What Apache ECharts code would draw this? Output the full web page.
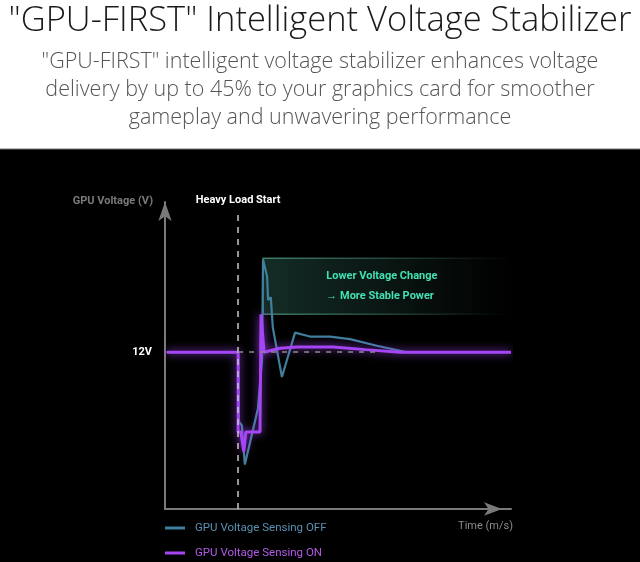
<!DOCTYPE html>
<html>
<head>
<meta charset="utf-8">
<script src="https://cdn.jsdelivr.net/npm/echarts@6/dist/echarts.min.js"></script>
<style>html,body{margin:0;padding:0;background:#fff}#c{width:640px;height:562px}</style>
</head>
<body>
<div id="c"></div>
<script>
// ---- data (x: time units, y: voltage units, 12 = nominal 12V) ----
const seriesNames = ['GPU Voltage Sensing OFF', 'GPU Voltage Sensing ON'];
const offData = [[0.5,12],[21.7,12],[21.9,6.7],[22.8,6.4],[23.7,3.4],[27.6,7.7],[28.8,11.4],[29.1,19.1],[30.3,17.8],[30.6,16.0],[31.4,16.2],[32.0,13.9],[34.7,10.1],[38.6,13.5],[43.0,13.2],[49.0,13.2],[54.9,13.0],[62.9,12.5],[71.8,12.0],[102.7,12]];
const onData = [[0.5,12],[21.7,12],[21.7,5.9],[22.5,5.9],[23.4,4.4],[24.0,5.9],[28.2,5.9],[28.5,14.9],[29.4,12.0],[34.1,12.3],[39.2,12.4],[49.9,12.4],[59.4,12.2],[69.7,12.0],[102.7,12]];
const loadStartX = 21.7;
const nominalV = 12;
const bandRange = [[29.1, 19.2], [102.7, 14.9]];
const yTickLabels = {12: '12V'};
const titleText = '"GPU-FIRST" Intelligent Voltage Stabilizer';
const subText = '"GPU-FIRST" intelligent voltage stabilizer enhances voltage\ndelivery by up to 45% to your graphics card for smoother\ngameplay and unwavering performance';

const cond = "'Roboto', sans-serif";
const chart = echarts.init(document.getElementById('c'), null, {renderer: 'canvas'});
chart.setOption({
  backgroundColor: '#fff',
  animation: false,
  title: {
    text: titleText,
    subtext: subText,
    left: 'center',
    top: -1,
    itemGap: 9,
    textStyle: {fontFamily: "'Open Sans', Lato, sans-serif", fontWeight: 300, fontSize: 34.5, color: '#1a1a1a'},
    subtextStyle: {fontFamily: "'Open Sans', Lato, sans-serif", fontWeight: 300, fontSize: 21.5, lineHeight: 28, color: '#555'}
  },
  graphic: [
    {type: 'rect', z: -10, shape: {x: 0, y: 149, width: 640, height: 413}, style: {fill: '#000'}},
    {type: 'line', z: -9, shape: {x1: 0, y1: 149, x2: 640, y2: 149}, style: {stroke: '#777', lineWidth: 1}}
  ],
  grid: {left: 165, right: 129, top: 202, bottom: 53},
  legend: {
    orient: 'vertical', left: 165, top: 522, padding: 0, itemGap: 13,
    icon: 'rect', itemWidth: 20, itemHeight: 3,
    textStyle: {fontFamily: cond, fontSize: 11.5, padding: [0, 0, 0, 5]},
    data: [
      {name: seriesNames[0], textStyle: {color: '#5b90b2'}},
      {name: seriesNames[1], textStyle: {color: '#b35ae8'}}
    ]
  },
  xAxis: {
    type: 'value', min: 0, max: 102.7,
    name: 'Time (m/s)', nameLocation: 'end', nameGap: 2,
    nameTextStyle: {color: '#8a8a8a', fontFamily: cond, fontSize: 11, align: 'right', verticalAlign: 'top', padding: [12, 0, 0, 0]},
    axisLine: {show: true, symbol: ['none', 'arrow'], symbolSize: [10, 18], symbolOffset: [0, -9], lineStyle: {color: '#7a7a7a', width: 2}},
    axisTick: {show: false}, axisLabel: {show: false}, splitLine: {show: false}
  },
  yAxis: {
    type: 'value', min: 0, max: 23.5, interval: 12,
    name: 'GPU Voltage (V)', nameLocation: 'end', nameGap: 1,
    nameTextStyle: {color: '#7a7a7a', fontFamily: cond, fontSize: 11, fontWeight: 'bold', align: 'right', verticalAlign: 'middle', padding: [0, 12, 0, 0]},
    axisLine: {show: true, symbol: ['none', 'arrow'], symbolSize: [10, 19], lineStyle: {color: '#7a7a7a', width: 2}},
    axisTick: {show: false}, splitLine: {show: false},
    axisLabel: {show: true, margin: 13, color: '#fff', fontFamily: cond, fontSize: 11, fontWeight: 'bold',
      formatter: v => yTickLabels[v] || ''}
  },
  series: [
    {
      name: 'markers', type: 'line', data: [], z: 1, silent: true,
      markArea: {
        silent: true,
        itemStyle: {
          color: {type: 'linear', x: 0, y: 0, x2: 1, y2: 0, colorStops: [
            {offset: 0, color: 'rgba(60,130,110,0.34)'},
            {offset: 0.5, color: 'rgba(50,110,95,0.2)'},
            {offset: 0.85, color: 'rgba(45,100,85,0.06)'},
            {offset: 1, color: 'rgba(40,90,75,0)'}]},
          borderWidth: 1.5,
          borderColor: {type: 'linear', x: 0, y: 0, x2: 1, y2: 0, colorStops: [
            {offset: 0, color: 'rgba(80,160,135,0.75)'},
            {offset: 0.5, color: 'rgba(70,140,120,0.45)'},
            {offset: 0.85, color: 'rgba(70,140,120,0.12)'},
            {offset: 1, color: 'rgba(70,140,120,0)'}]}
        },
        label: {
          show: true, position: 'insideLeft', distance: 64,
          color: '#42e0b2', fontFamily: cond, fontSize: 11, fontWeight: 'bold', lineHeight: 20, align: 'left',
          formatter: 'Lower Voltage Change\n→ More Stable Power'
        },
        data: [[{coord: bandRange[0]}, {coord: bandRange[1]}]]
      },
      markLine: {
        silent: true, symbol: 'none',
        data: [
          [{coord: [loadStartX, 0], lineStyle: {color: '#c8c8c8', type: [6, 6], width: 1.5},
            label: {show: true, position: 'end', distance: 9, color: '#fff', fontFamily: cond, fontSize: 11, fontWeight: 'bold', formatter: 'Heavy Load Start'}},
           {coord: [loadStartX, 22.5]}],
          [{coord: [loadStartX, nominalV], lineStyle: {color: '#8a8a8a', type: [5, 6], width: 1.5}, label: {show: false}},
           {coord: [64, nominalV]}]
        ]
      }
    },
    {
      name: seriesNames[0], type: 'line', data: offData, z: 2,
      showSymbol: false, symbol: 'none', color: '#3f7f9c',
      lineStyle: {color: '#3f7f9c', width: 2.2}
    },
    {
      name: seriesNames[1], type: 'line', data: onData, z: 3,
      showSymbol: false, symbol: 'none', color: '#a545f5',
      lineStyle: {color: '#a545f5', width: 3, shadowBlur: 8, shadowColor: 'rgba(170,70,255,0.9)'}
    }
  ]
});
</script>
</body>
</html>
